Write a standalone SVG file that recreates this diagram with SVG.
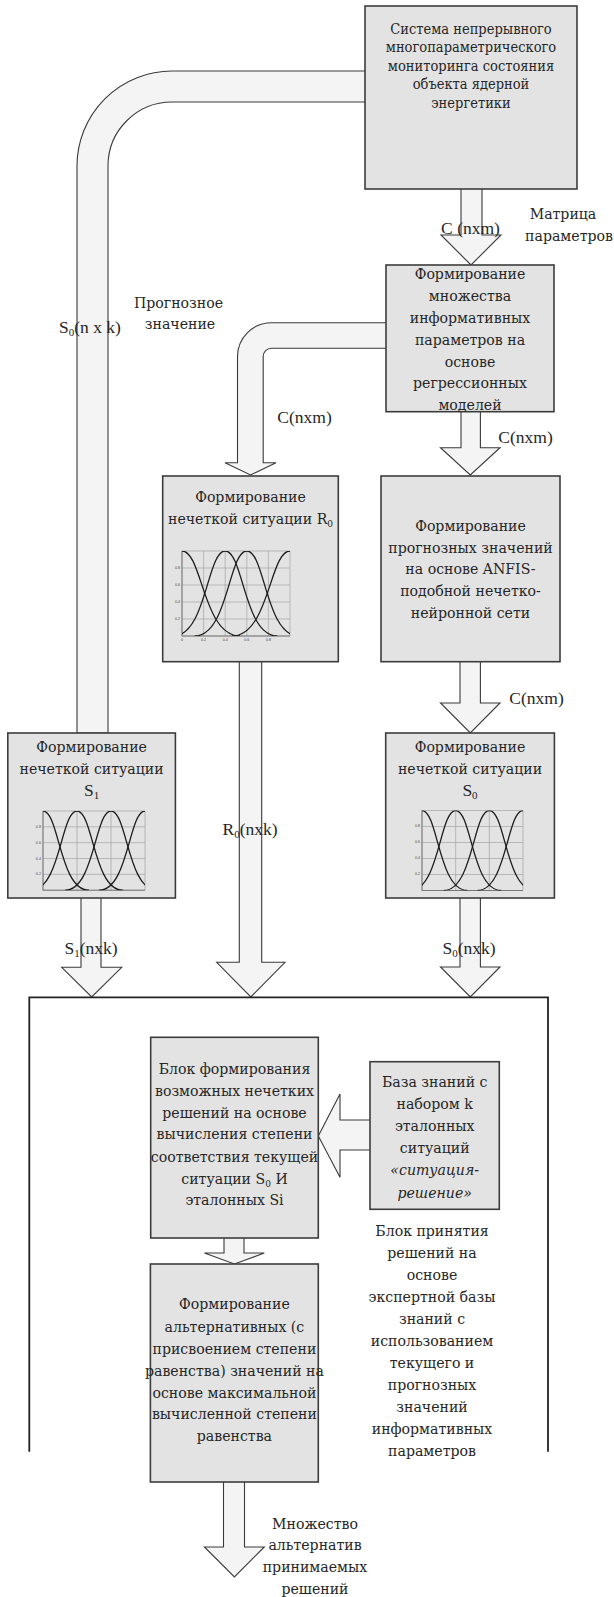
<svg xmlns="http://www.w3.org/2000/svg" width="614" height="1597" viewBox="0 0 614 1597">
  <style>
    .box { fill: #e3e3e3; stroke: #3c3c3c; stroke-width: 1.6; }
    .arr { fill: #f4f4f4; stroke: #3a3a3a; stroke-width: 1.1; stroke-linejoin: miter; }
    .frame { fill: none; stroke: #222; stroke-width: 1.8; }
    .t { font-family: "DejaVu Serif Condensed", "DejaVu Serif", serif; font-stretch: condensed; font-size: 15.7px; fill: #262626; text-anchor: middle; }
    .sm { font-size: 14.5px; }
    .it { font-style: italic; }
    .lat { font-family: "Liberation Serif", "Times New Roman", serif; font-stretch: normal; font-size: 17.5px; fill: #262626; text-anchor: middle; }
    .grid { fill: none; stroke: #9a9a9a; stroke-width: 0.6; }
    .axis { fill: none; stroke: #666; stroke-width: 0.8; }
    .mf { fill: none; stroke: #1e1e1e; stroke-width: 1.3; }
    .tick { font-family: "Liberation Sans", Arial, sans-serif; font-size: 3.6px; fill: #444; }
  </style>
  <defs>
    <clipPath id="clipS"><rect x="0" y="0" width="100" height="80"/></clipPath>
    <clipPath id="clipR"><rect x="0" y="0" width="108" height="85"/></clipPath>
    <!-- four evenly spaced membership functions -->
    <g id="mfS">
      <rect class="grid" x="0" y="0" width="100" height="80"/>
      <path class="grid" d="M33.33,0V80M66.67,0V80M0,16H100M0,32H100M0,48H100M0,64H100"/>
      <path class="axis" d="M0,0V80H100"/>
      <g class="tick" text-anchor="end">
        <text x="-2" y="17">0.8</text><text x="-2" y="33">0.6</text>
        <text x="-2" y="49">0.4</text><text x="-2" y="65">0.2</text>
      </g>
      <g clip-path="url(#clipS)">
        <path class="mf" d="M-45,80 C-16.3,80 -15.8,0 0,0 C15.8,0 16.3,80 45,80"/>
        <path class="mf" d="M-11.67,80 C17.03,80 17.53,0 33.33,0 C49.13,0 49.63,80 78.33,80"/>
        <path class="mf" d="M21.67,80 C50.37,80 50.87,0 66.67,0 C82.47,0 82.97,80 111.67,80"/>
        <path class="mf" d="M55,80 C83.7,80 84.2,0 100,0 C115.8,0 116.3,80 145,80"/>
      </g>
    </g>
    <!-- membership functions for R0 -->
    <g id="mfR">
      <rect class="grid" x="0" y="0" width="108" height="85"/>
      <path class="grid" d="M21.6,0V85M43.2,0V85M64.8,0V85M86.4,0V85M0,17H108M0,34H108M0,51H108M0,68H108"/>
      <path class="axis" d="M0,0V85H108"/>
      <g class="tick" text-anchor="end">
        <text x="-2" y="18">0.8</text><text x="-2" y="35">0.6</text>
        <text x="-2" y="52">0.4</text><text x="-2" y="69">0.2</text>
      </g>
      <g class="tick" text-anchor="middle">
        <text x="0" y="90">0</text><text x="21.6" y="90">0.2</text><text x="43.2" y="90">0.4</text>
        <text x="64.8" y="90">0.6</text><text x="86.4" y="90">0.8</text>
      </g>
      <g clip-path="url(#clipR)">
        <path class="mf" d="M0,0 C20.3,0 21.05,85 58,85"/>
        <path class="mf" d="M-8.8,85 C24.3,85 25,0 43.2,0 C61.4,0 62.1,85 95.2,85"/>
        <path class="mf" d="M12.8,85 C45.9,85 46.6,0 64.8,0 C83,0 83.7,85 116.8,85"/>
        <path class="mf" d="M50,85 C86.95,85 87.7,0 108,0"/>
      </g>
    </g>
  </defs>

  <rect width="614" height="1597" fill="#ffffff"/>

  <!-- connectors -->
  <g id="connectors">
    <path class="arr" d="M365,71 H172 A95,95 0 0 0 77,166 V733 H108 V166 A64,64 0 0 1 172,102 H365"/>
    <path class="arr" d="M461,188 V235 H441 L471,265 L501,235 H482 V188"/>
    <path class="arr" d="M386.7,322.7 H271.5 A34,34 0 0 0 237.5,356.5 V462.7 H225 L250.5,475 L276,462.7 H263.2 V356.5 A8.3,8.3 0 0 1 271.5,348.2 H386.7"/>
    <path class="arr" d="M461,411.7 V447.7 H440.5 L470.3,475 L500,447.7 H480.4 V411.7"/>
    <path class="arr" d="M460,661.7 V703 H440.5 L470.3,733 L500,703 H480.4 V661.7"/>
    <path class="arr" d="M239.3,661.7 V962.3 H216.7 L250.8,997 L285,962.3 H261.7 V661.7"/>
    <path class="arr" d="M81,898 V967.3 H61.7 L91.7,997 L121.7,967.3 H101 V898"/>
    <path class="arr" d="M460,898 V967 H440.5 L470.3,997 L500,967 H480.4 V898"/>
    <path class="arr" d="M370,1120 H340 V1094 L318.3,1136 L340,1177.3 V1150 H370"/>
    <path class="arr" d="M224,1238 V1253 H204.4 L234.4,1264 L264.3,1253 H244 V1238"/>
    <path class="arr" d="M223.5,1482 V1547 H204.4 L234.4,1577 L264.3,1547 H244.5 V1482"/>

    <text class="lat" x="470.5" y="234">C (nxm)</text>
    <text class="t" x="563" y="219">Матрица</text>
    <text class="t" x="569" y="241">параметров</text>
    <text class="t" x="178.5" y="308">Прогнозное</text>
    <text class="t" x="180" y="329">значение</text>
    <text class="lat" x="90" y="333">S<tspan font-size="11" dy="3">0</tspan><tspan dy="-3">(n x k)</tspan></text>
    <text class="lat" x="304.5" y="423">C(nxm)</text>
    <text class="lat" x="525.5" y="443">C(nxm)</text>
    <text class="lat" x="536.5" y="704">C(nxm)</text>
    <text class="lat" x="250" y="835">R<tspan font-size="11" dy="3">0</tspan><tspan dy="-3">(nxk)</tspan></text>
    <text class="lat" x="91" y="954">S<tspan font-size="11" dy="3">1</tspan><tspan dy="-3">(nxk)</tspan></text>
    <text class="lat" x="469" y="954">S<tspan font-size="11" dy="3">0</tspan><tspan dy="-3">(nxk)</tspan></text>
    <text class="t" x="315" y="1529">Множество</text>
    <text class="t" x="315" y="1550">альтернатив</text>
    <text class="t" x="315" y="1572">принимаемых</text>
    <text class="t" x="315" y="1594">решений</text>
  </g>

  <!-- decision-making block -->
  <g id="decision-block">
    <path class="frame" d="M29.3,1451.7 V997.3 H548 V1451.7"/>
    <g class="t">
      <text x="432" y="1236">Блок принятия</text>
      <text x="432" y="1258">решений на</text>
      <text x="432" y="1280">основе</text>
      <text x="432" y="1302">экспертной базы</text>
      <text x="432" y="1324">знаний с</text>
      <text x="432" y="1346">использованием</text>
      <text x="432" y="1368">текущего и</text>
      <text x="432" y="1390">прогнозных</text>
      <text x="432" y="1412">значений</text>
      <text x="432" y="1434">информативных</text>
      <text x="432" y="1456">параметров</text>
    </g>
  </g>

  <g id="monitoring">
    <rect class="box" x="365" y="6" width="212" height="183"/>
    <g class="t sm">
      <text x="471" y="33.5">Система непрерывного</text>
      <text x="471" y="52">многопараметрического</text>
      <text x="471" y="70.5">мониторинга состояния</text>
      <text x="471" y="89">объекта ядерной</text>
      <text x="471" y="107.5">энергетики</text>
    </g>
  </g>

  <g id="informative-params">
    <rect class="box" x="386" y="265" width="168" height="146.7"/>
    <g class="t">
      <text x="470" y="279">Формирование</text>
      <text x="470" y="301">множества</text>
      <text x="470" y="323">информативных</text>
      <text x="470" y="345">параметров на</text>
      <text x="470" y="367">основе</text>
      <text x="470" y="388">регрессионных</text>
      <text x="470" y="410">моделей</text>
    </g>
  </g>

  <g id="fuzzy-r0">
    <rect class="box" x="162.7" y="476" width="175.6" height="185.7"/>
    <g class="t">
      <text x="250.5" y="502">Формирование</text>
      <text x="250.5" y="524">нечеткой ситуации R<tspan font-size="10" dy="3">0</tspan></text>
    </g>
    <use href="#mfR" transform="translate(182,551)"/>
  </g>

  <g id="anfis">
    <rect class="box" x="381" y="476" width="179" height="185.7"/>
    <g class="t">
      <text x="470.5" y="531">Формирование</text>
      <text x="470.5" y="553">прогнозных значений</text>
      <text x="470.5" y="574">на основе ANFIS-</text>
      <text x="470.5" y="596">подобной нечетко-</text>
      <text x="470.5" y="618">нейронной сети</text>
    </g>
  </g>

  <g id="fuzzy-s1">
    <rect class="box" x="7.8" y="733" width="167.6" height="165"/>
    <g class="t">
      <text x="91.6" y="752">Формирование</text>
      <text x="91.6" y="774">нечеткой ситуации</text>
    </g>
    <text class="lat" x="91.6" y="796">S<tspan font-size="11" dy="3">1</tspan></text>
    <use href="#mfS" transform="translate(43,811) scale(1.02,0.99)"/>
  </g>

  <g id="fuzzy-s0">
    <rect class="box" x="385.7" y="733" width="168.7" height="165"/>
    <g class="t">
      <text x="470" y="752">Формирование</text>
      <text x="470" y="774">нечеткой ситуации</text>
    </g>
    <text class="lat" x="470" y="796">S<tspan font-size="11" dy="3">0</tspan></text>
    <use href="#mfS" transform="translate(422,810.5) scale(1.01,1)"/>
  </g>

  <g id="fuzzy-solutions">
    <rect class="box" x="150.7" y="1037.3" width="167.6" height="200.7"/>
    <g class="t">
      <text x="234.5" y="1074">Блок формирования</text>
      <text x="234.5" y="1096">возможных нечетких</text>
      <text x="234.5" y="1118">решений на основе</text>
      <text x="234.5" y="1139">вычисления степени</text>
      <text x="234.5" y="1162">соответствия текущей</text>
      <text x="234.5" y="1184">ситуации S<tspan font-size="10" dy="3">0</tspan><tspan dy="-3"> И</tspan></text>
      <text x="234.5" y="1205">эталонных Si</text>
    </g>
  </g>

  <g id="knowledge-base">
    <rect class="box" x="370" y="1061.7" width="129.3" height="147.6"/>
    <g class="t">
      <text x="434.7" y="1087">База знаний с</text>
      <text x="434.7" y="1109">набором k</text>
      <text x="434.7" y="1131">эталонных</text>
      <text x="434.7" y="1153">ситуаций</text>
      <text class="it" x="434.7" y="1175">«ситуация-</text>
      <text class="it" x="434.7" y="1198">решение»</text>
    </g>
  </g>

  <g id="alternatives">
    <rect class="box" x="150.4" y="1264" width="167.9" height="218"/>
    <g class="t">
      <text x="234.4" y="1309">Формирование</text>
      <text x="234.4" y="1332">альтернативных (с</text>
      <text x="234.4" y="1354">присвоением степени</text>
      <text x="234.4" y="1376">равенства) значений на</text>
      <text x="234.4" y="1398">основе максимальной</text>
      <text x="234.4" y="1419">вычисленной степени</text>
      <text x="234.4" y="1441">равенства</text>
    </g>
  </g>
</svg>
